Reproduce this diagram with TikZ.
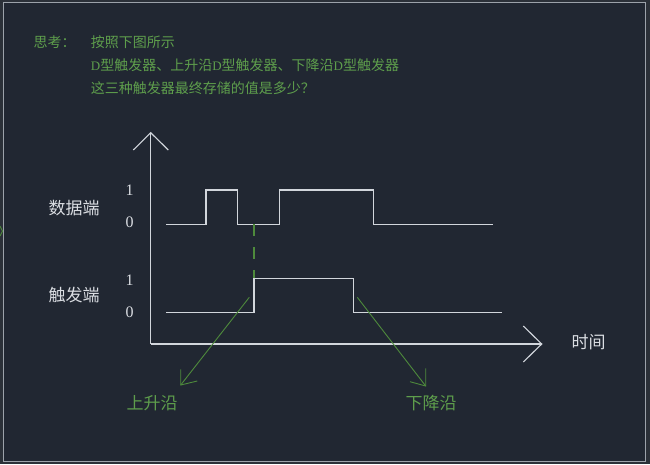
\documentclass[tikz,border=0pt]{standalone}
\usepackage{fontspec}
\setmainfont{Liberation Serif}
\newfontfamily\cjk{Noto Sans CJK SC}
\definecolor{bgc}{HTML}{212732}
\definecolor{outc}{HTML}{2B3038}
\definecolor{framec}{HTML}{9CA2AA}
\definecolor{txtg}{HTML}{5E9E4C}
\definecolor{lineg}{HTML}{4E8A3C}
\definecolor{wave}{HTML}{D2D6DC}
\definecolor{lab}{HTML}{DADDE2}
\begin{document}
\begin{tikzpicture}[x=1pt,y=-1pt,
  title/.style={anchor=west,inner sep=0pt,text=txtg,font=\cjk\fontsize{14}{14}\selectfont},
  sig/.style={draw=wave,line width=1.15pt,line join=miter},
  axis/.style={draw=wave,line width=1.15pt},
  glab/.style={inner sep=0pt,text=txtg,font=\cjk\fontsize{17}{17}\selectfont},
  wlab/.style={inner sep=0pt,text=lab,font=\cjk\fontsize{17}{17}\selectfont},
  digit/.style={inner sep=0pt,text=lab,font=\fontsize{16}{16}\selectfont},
  garrow/.style={draw=lineg,line width=0.9pt}]
\useasboundingbox (0,0) rectangle (650,464);
\fill[outc] (0,0) rectangle (650,464);
\fill[bgc] (3.5,2.5) rectangle (645.5,461.5);
\draw[framec,line width=1.2pt] (3.5,2.5) rectangle (645.5,461.5);
\draw[lineg,line width=0.9pt] (0,226) -- (2.5,231) -- (0,236);
% title
\node[title] (t0) at (33.3,42) {思考：};
\node[title] (t1) at (90.7,42) {按照下图所示};
\node[title] (t2) at (90.7,65) {{\rmfamily\fontsize{13}{13}\selectfont D}型触发器、上升沿{\rmfamily\fontsize{13}{13}\selectfont D}型触发器、下降沿{\rmfamily\fontsize{13}{13}\selectfont D}型触发器};
\node[title] (t3) at (90.7,88.3) {这三种触发器最终存储的值是多少？};
% axes
\coordinate (O) at (150.7,344);
\coordinate (Ytip) at (150.7,132.7);
\coordinate (Xtip) at (541.7,344);
\draw[axis] (O) -- (Ytip);
\draw[axis] (133.3,150) -- (Ytip) -- (168.3,150);
\draw[axis] (O) -- (Xtip);
\draw[axis] (523.3,326) -- (Xtip) -- (523.3,362);
% data signal
\draw[sig] (166,224.3) -- (206,224.3) -- (206,190) -- (237.7,190) -- (237.7,224.3)
  -- (279.3,224.3) -- (279.3,190) -- (373.7,190) -- (373.7,224.3) -- (492.7,224.3);
% trigger signal
\draw[sig] (166,312.3) -- (254,312.3) -- (254,278.3) -- (353.3,278.3) -- (353.3,312.3) -- (501.7,312.3);
% dashed guide
\coordinate (dA) at (254,224.3);
\coordinate (dB) at (254,278.3);
\draw[lineg,line width=1.2pt,dash pattern=on 12pt off 11pt] (dA) -- (dB);
% labels
\node[wlab] (data) at (74.2,208.3) {数据端};
\node[wlab] (trig) at (74.2,295) {触发端};
\node[digit] (d1) at (129.5,190) {1};
\node[digit] (d0) at (129.5,222.5) {0};
\node[digit] (c1) at (129.5,280) {1};
\node[digit] (c0) at (129.5,312.3) {0};
\node[wlab] (time) at (588.7,341.7) {时间};
\node[glab] (rise) at (152,403.3) {上升沿};
\node[glab] (fall) at (431,403.3) {下降沿};
% green arrows
\coordinate (rs) at (249.3,297.3);
\coordinate (rt) at (180.7,385);
\draw[garrow] (rs) -- (rt);
\draw[garrow] (180.7,369.3) -- (rt) -- (197.3,381);
\coordinate (fs) at (357.3,297.3);
\coordinate (ft) at (425.7,386);
\draw[garrow] (fs) -- (ft);
\draw[garrow] (425.7,368.3) -- (ft) -- (410,381.7);
\end{tikzpicture}
\end{document}
